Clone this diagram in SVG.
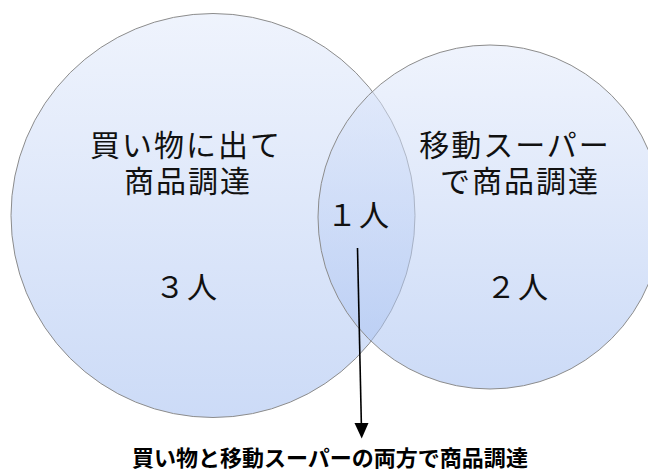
<svg xmlns="http://www.w3.org/2000/svg" width="648" height="473" viewBox="0 0 648 473">
  <style>
    .lbl { font-family: "Noto Sans CJK JP", "Liberation Sans", sans-serif; font-size: 30px; letter-spacing: 2px; fill: #111; text-anchor: middle; }
    .cap { font-family: "Noto Sans CJK JP", "Liberation Sans", sans-serif; font-size: 22px; font-weight: bold; fill: #000; text-anchor: middle; }
    .set { fill: url(#g); fill-opacity: 0.55; stroke: #8c8c8c; stroke-width: 1; }
    .conn { stroke: #000; stroke-width: 1.6; fill: none; }
  </style>
  <defs>
    <linearGradient id="g" x1="0" y1="0" x2="0" y2="1">
      <stop offset="0" stop-color="#e2eafb"/>
      <stop offset="1" stop-color="#a2bdf0"/>
    </linearGradient>
  </defs>
  <g id="set-shopping">
    <circle class="set" cx="213" cy="215.5" r="202"/>
  </g>
  <g id="set-mobile">
    <circle class="set" cx="490" cy="217" r="172"/>
  </g>
  <g id="label-shopping">
    <text class="lbl"><tspan x="186" y="156">買い物に出て</tspan><tspan x="188" y="192">商品調達</tspan></text>
    <text class="lbl" x="187" y="298">３人</text>
  </g>
  <g id="label-mobile">
    <text class="lbl"><tspan x="515" y="156">移動スーパー</tspan><tspan x="520" y="192">で商品調達</tspan></text>
    <text class="lbl" x="518" y="298">２人</text>
  </g>
  <g id="label-both">
    <text class="lbl" x="359" y="226">１人</text>
  </g>
  <g id="connectors">
    <line class="conn" x1="357.5" y1="248" x2="361.5" y2="430"/>
    <path d="M354.5,423 L368.5,423 L361.7,438.5 Z" fill="#000"/>
  </g>
  <g id="caption">
    <text class="cap" x="330" y="466">買い物と移動スーパーの両方で商品調達</text>
  </g>
</svg>
